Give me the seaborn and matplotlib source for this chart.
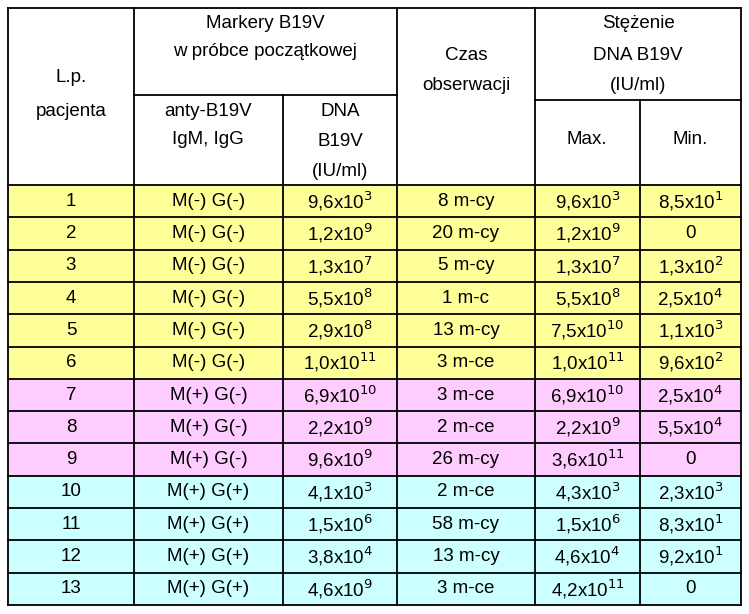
import matplotlib
matplotlib.use("Agg")
import matplotlib.pyplot as plt
import seaborn as sns
import numpy as np
from matplotlib.colors import ListedColormap

patients = [str(i) for i in range(1, 14)]
markers = ["M(-) G(-)"]*6 + ["M(+) G(-)"]*3 + ["M(+) G(+)"]*4
dna_start = ["9,6x10$^{3}$", "1,2x10$^{9}$", "1,3x10$^{7}$", "5,5x10$^{8}$", "2,9x10$^{8}$", "1,0x10$^{11}$",
             "6,9x10$^{10}$", "2,2x10$^{9}$", "9,6x10$^{9}$", "4,1x10$^{3}$", "1,5x10$^{6}$", "3,8x10$^{4}$", "4,6x10$^{9}$"]
obs_time = ["8 m-cy", "20 m-cy", "5 m-cy", "1 m-c", "13 m-cy", "3 m-ce", "3 m-ce", "2 m-ce", "26 m-cy",
            "2 m-ce", "58 m-cy", "13 m-cy", "3 m-ce"]
dna_max = ["9,6x10$^{3}$", "1,2x10$^{9}$", "1,3x10$^{7}$", "5,5x10$^{8}$", "7,5x10$^{10}$", "1,0x10$^{11}$",
           "6,9x10$^{10}$", "2,2x10$^{9}$", "3,6x10$^{11}$", "4,3x10$^{3}$", "1,5x10$^{6}$", "4,6x10$^{4}$", "4,2x10$^{11}$"]
dna_min = ["8,5x10$^{1}$", "0", "1,3x10$^{2}$", "2,5x10$^{4}$", "1,1x10$^{3}$", "9,6x10$^{2}$",
           "2,5x10$^{4}$", "5,5x10$^{4}$", "0", "2,3x10$^{3}$", "8,3x10$^{1}$", "9,2x10$^{1}$", "0"]
group = [0]*6 + [1]*3 + [2]*4
group_colors = ["#FFFF99", "#FFCCFF", "#CCFFFF"]

W, H = 749, 614
fig = plt.figure(figsize=(W/100, H/100), dpi=100)
plt.rcParams["font.family"] = "Liberation Sans"

xs = [8, 134, 283, 397, 535, 640, 741]
y_top, y_data, y_bot = 8, 185, 605

# colored data region via seaborn heatmap
hax = fig.add_axes([xs[0]/W, (H-y_bot)/H, (xs[-1]-xs[0])/W, (y_bot-y_data)/H])
mat = np.repeat(np.array(group)[:, None], 6, axis=1)
sns.heatmap(mat, ax=hax, cmap=ListedColormap(group_colors), vmin=-0.5, vmax=2.5, cbar=False,
            xticklabels=False, yticklabels=False)
hax.set_axis_off()

ax = fig.add_axes([0, 0, 1, 1], facecolor="none")
ax.set_xlim(0, W); ax.set_ylim(H, 0); ax.set_axis_off()
lw = 1.3
# lines
for y in [y_top, y_data, y_bot]:
    ax.plot([xs[0], xs[-1]], [y, y], color="black", lw=lw)
rh = (y_bot - y_data) / 13
for i in range(1, 13):
    y = y_data + i*rh
    ax.plot([xs[0], xs[-1]], [y, y], color="black", lw=lw)
ax.plot([xs[1], xs[3]], [95, 95], color="black", lw=lw)
ax.plot([xs[4], xs[6]], [100, 100], color="black", lw=lw)
for x in [xs[0], xs[1], xs[3], xs[4], xs[6]]:
    ax.plot([x, x], [y_top, y_bot], color="black", lw=lw)
ax.plot([xs[2], xs[2]], [95, y_bot], color="black", lw=lw)
ax.plot([xs[5], xs[5]], [100, y_bot], color="black", lw=lw)

fs = 13.5
def t(x, y, s):
    ax.text(x, y, s, ha="center", va="center", fontsize=fs)

t(71, 77, "L.p."); t(71, 112, "pacjenta")
t(265, 24, "Markery B19V"); t(265, 52, "w próbce początkowej")
t(466, 55, "Czas"); t(466, 85, "obserwacji")
t(638, 24, "Stężenie"); t(638, 55, "DNA B19V"); t(638, 85, "(IU/ml)")
t(208, 112, "anty-B19V"); t(208, 140, "IgM, IgG")
t(340, 112, "DNA"); t(340, 142, "B19V"); t(340, 172, "(IU/ml)")
t(587, 140, "Max."); t(690, 140, "Min.")

cols = [patients, markers, dna_start, obs_time, dna_max, dna_min]
for i in range(13):
    y = y_data + (i + 0.5)*rh
    for c in range(6):
        t((xs[c]+xs[c+1])/2, y, cols[c][i])

fig.savefig("out.png", dpi=100)
